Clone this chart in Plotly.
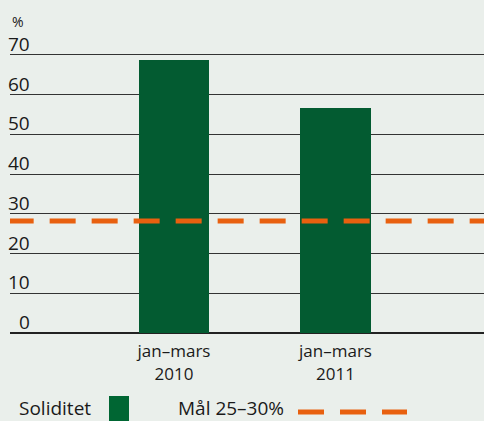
import plotly.graph_objects as go

categories = ["jan–mars<br>2010", "jan–mars<br>2011"]
soliditet = [68.8, 56.7]
target_line = 28.2
y_ticks = [0, 10, 20, 30, 40, 50, 60, 70]

BG = "#EAEFEB"
GREEN = "#035B31"
ORANGE = "#E8600F"
FONT = "Open Sans"
TXT = "#1a1a1a"

xpos = [1, 2]

fig = go.Figure()
fig.add_trace(go.Bar(x=xpos, y=soliditet, width=0.435, marker=dict(color=GREEN, line=dict(width=0)),
                     showlegend=False))

# target line drawn in data coords
fig.add_trace(go.Scatter(x=[-0.03, 2.95], y=[target_line, target_line], mode="lines",
                         line=dict(color=ORANGE, width=5, dash="26px,16px"), showlegend=False,
                         hoverinfo="skip"))

def px(x):
    return (x - 10) / 474

def py(y):
    return (333 - y) / 282

annotations = []
for v in y_ticks:
    annotations.append(dict(x=px(32), xref="paper", y=v, yref="y", text=str(v), showarrow=False,
                            xanchor="right", yanchor="bottom", yshift=-4,
                            font=dict(family=FONT, size=19, color=TXT)))
annotations.append(dict(x=px(10), xref="paper", y=py(22), yref="paper", text="%", showarrow=False,
                        xanchor="left", yanchor="middle",
                        font=dict(family=FONT, size=14, color=TXT)))
# legend
annotations.append(dict(x=px(17), xref="paper", y=py(408), yref="paper",
                        text="Soliditet", showarrow=False, xanchor="left", yanchor="middle",
                        font=dict(family=FONT, size=19, color=TXT)))
annotations.append(dict(x=px(176), xref="paper", y=py(408), yref="paper",
                        text="Mål 25–30%", showarrow=False, xanchor="left", yanchor="middle",
                        font=dict(family=FONT, size=19, color=TXT)))

shapes = [dict(type="rect", xref="paper", yref="paper", x0=px(109), x1=px(129), y0=py(396), y1=py(425),
               fillcolor="#006633", line=dict(width=0))]
for a, b in [(298, 324), (340, 366), (382, 407)]:
    shapes.append(dict(type="line", xref="paper", yref="paper", x0=px(a), x1=px(b), y0=py(412), y1=py(412),
                       line=dict(color=ORANGE, width=5)))

fig.update_layout(
    width=484, height=421,
    margin=dict(l=10, r=0, t=51, b=88),
    paper_bgcolor=BG, plot_bgcolor=BG,
    xaxis=dict(range=[-0.0155, 2.9195], tickvals=xpos, ticktext=categories, showgrid=False,
               zeroline=False, showline=False, ticks="outside", ticklen=3, tickcolor="rgba(0,0,0,0)",
               tickfont=dict(family=FONT, size=17, color=TXT), fixedrange=True),
    yaxis=dict(range=[0, 71], tickvals=y_ticks, showticklabels=False, showgrid=True,
               gridcolor="#333333", gridwidth=1, zeroline=True, zerolinecolor="#222222",
               zerolinewidth=1.5, showline=False, fixedrange=True),
    annotations=annotations, shapes=shapes,
    bargap=0,
)

fig.write_html("out.html", config={"displayModeBar": False},
               post_script="document.body.style.margin='0';document.body.style.overflow='hidden';")
